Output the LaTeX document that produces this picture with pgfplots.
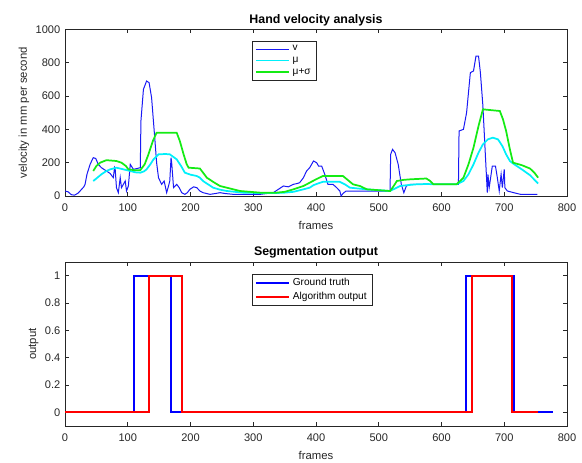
\documentclass[border=0pt]{standalone}
\usepackage{pgfplots}
\pgfplotsset{compat=1.18}
\usepackage{fontspec}
\setmainfont{Liberation Sans}
\definecolor{axgray}{RGB}{38,38,38}
\definecolor{vblue}{RGB}{25,25,245}
\definecolor{mucyan}{RGB}{0,240,250}
\definecolor{sgreen}{RGB}{20,235,20}
\pgfplotsset{
  mystyle/.style={
    scale only axis,
    width=376.5pt,
    xmin=0, xmax=800,
    xtick={0,100,...,800},
    tick align=inside,
    major tick length=3pt,
    axis line style={axgray, line width=0.5pt},
    every tick/.style={axgray, line width=0.5pt},
    tick label style={font=\fontsize{8.3}{10}\selectfont, text=axgray},
    xticklabel style={yshift=-2pt},
    label style={font=\fontsize{8.5}{10}\selectfont, text=axgray},
    xlabel style={yshift=-1pt},
    ylabel style={yshift=-2pt},
    title style={font=\bfseries\fontsize{9.3}{11}\selectfont, text=black, yshift=-7pt},
    /pgf/number format/assume math mode=true,
    /pgf/number format/1000 sep={},
    scaled ticks=false,
    legend cell align=left,
    legend style={draw=axgray, line width=0.5pt, font=\fontsize{7.6}{9}\selectfont, inner xsep=2pt, inner ysep=1pt, row sep=-1pt},
    legend image code/.code={\draw[#1] plot coordinates {(0pt,0pt) (25pt,0pt)};},
  }
}
\begin{document}
\begin{tikzpicture}
\useasboundingbox (0,0) rectangle (436.5pt,346.5pt);
\begin{axis}[mystyle,
  at={(48.75pt,199.5pt)}, anchor=south west,
  height=125pt,
  ymin=0, ymax=1000, ytick={0,200,...,1000},
  title={Hand velocity analysis},
  xlabel={frames}, ylabel={velocity in mm per second},
  legend style={at={(0.3725,0.929)}, anchor=north west},
]
\addplot[vblue, line width=0.75pt] coordinates {
(0,30)(5,25)(10,8)(15,5)(20,15)(24,30)(30,55)(32,70)(35,130)(40,190)(45,230)(49,225)(53,190)(58,170)(62,160)(66,150)(72,135)(77,110)(79,170)(80,160)(82,50)(85,20)(88,110)(90,50)(93,70)(96,90)(98,30)(101,60)(104,190)(109,160)(115,165)(120,170)(121,450)(125,640)(130,690)(134,680)(138,590)(143,350)(146,200)(149,110)(154,70)(158,90)(162,20)(165,60)(167,90)(169,230)(170,200)(173,50)(178,70)(182,50)(186,20)(191,10)(195,20)(199,40)(205,55)(210,50)(215,30)(220,20)(231,10)(240,15)(247,20)(255,15)(268,10)(290,10)(311,10)(332,20)(340,40)(348,60)(356,55)(364,70)(370,75)(374,80)(380,110)(385,150)(390,170)(396,210)(401,200)(404,180)(409,180)(414,130)(419,70)(427,70)(433,50)(438,30)(440,0)(443,15)(448,30)(481,30)(518,30)(519,250)(522,280)(526,260)(531,190)(536,70)(540,20)(544,60)(550,70)(565,70)(600,70)(627,70)(628,390)(635,400)(640,500)(646,740)(651,750)(655,840)(659,840)(662,740)(666,540)(670,240)(673,20)(674,130)(676,50)(681,180)(686,180)(689,110)(692,30)(695,130)(697,50)(700,160)(701,50)(705,30)(715,20)(726,10)(740,10)(753,10)
};
\addlegendentry{v}
\addplot[mucyan, line width=1.3pt] coordinates {
(45,90)(50,105)(58,130)(65,148)(72,160)(82,170)(93,160)(104,150)(112,142)(120,140)(126,148)(130,160)(136,190)(141,220)(149,250)(160,252)(167,250)(178,220)(185,180)(191,140)(200,128)(210,120)(215,110)(220,90)(228,70)(236,50)(247,38)(258,30)(284,20)(311,18)(337,18)(350,20)(364,25)(380,40)(390,50)(396,65)(403,75)(411,85)(438,85)(446,70)(454,50)(467,45)(481,40)(500,35)(518,30)(526,45)(534,60)(545,65)(560,70)(576,72)(590,70)(624,70)(635,90)(643,130)(651,190)(659,260)(666,310)(674,340)(682,350)(690,340)(697,300)(703,250)(709,210)(714,195)(728,160)(741,125)(754,75)
};
\addlegendentry{μ}
\addplot[sgreen, line width=1.3pt] coordinates {
(45,150)(50,180)(56,200)(66,215)(82,210)(90,200)(97,180)(101,160)(110,155)(120,155)(127,190)(133,250)(140,330)(146,380)(178,380)(183,330)(189,250)(194,190)(197,170)(215,165)(220,140)(226,110)(236,85)(247,60)(263,45)(279,30)(311,20)(337,20)(350,25)(364,40)(380,60)(390,80)(400,100)(411,120)(443,120)(451,95)(459,70)(470,60)(481,40)(518,30)(522,50)(529,90)(540,97)(550,100)(576,105)(582,90)(587,70)(624,70)(635,110)(643,190)(651,290)(659,420)(666,520)(693,510)(698,460)(703,390)(709,280)(714,200)(728,185)(741,165)(748,140)(754,110)
};
\addlegendentry{μ+σ}
\end{axis}
\begin{axis}[mystyle,
  at={(48.75pt,27pt)}, anchor=south west,
  height=123pt,
  ymin=-0.1, ymax=1.1, ytick={0,0.2,...,1},
  yticklabels={0,0.2,0.4,0.6,0.8,1},
  title={Segmentation output},
  xlabel={frames}, ylabel={output},
  legend style={at={(0.3725,0.925)}, anchor=north west},
]
\addplot[blue, line width=1.4pt] coordinates {
(0,0)(109.5,0)(109.5,1)(169,1)(169,0)(639,0)(639,1)(715,1)(715,0)(777,0)
};
\addlegendentry{Ground truth}
\addplot[red, line width=1.4pt] coordinates {
(0,0)(134,0)(134,1)(187,1)(187,0)(649,0)(649,1)(712,1)(712,0)(754,0)
};
\addlegendentry{Algorithm output}
\end{axis}
\end{tikzpicture}
\end{document}
